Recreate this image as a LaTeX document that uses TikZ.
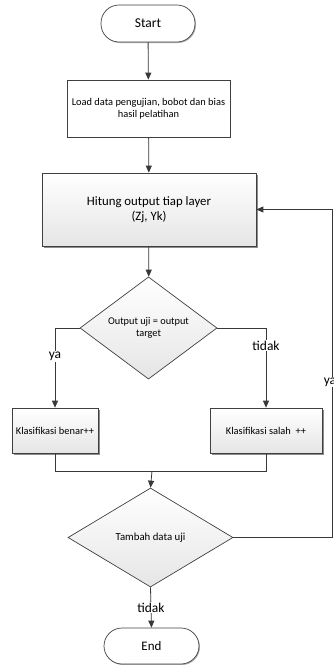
\documentclass[tikz,border=0pt]{standalone}
\usepackage{fontspec}
\setmainfont{Carlito}
\usetikzlibrary{arrows.meta,shapes.geometric,shadows}
\begin{document}
\begin{tikzpicture}[x=1pt,y=-1pt,
  line/.style={draw=black!78, line width=0.8pt},
  arr/.style={line, -{Triangle[length=7pt,width=6pt]}},
  base/.style={draw=black!75, line width=0.7pt, align=center, inner sep=2pt, text=black},
  term/.style={base, fill=white, rounded corners=18pt,
    drop shadow={shadow xshift=1pt, shadow yshift=-1pt, fill=black!30, opacity=1}},
  plainbox/.style={base, fill=white},
  shbox/.style={base, top color=white, bottom color=black!10,
    drop shadow={shadow xshift=1.5pt, shadow yshift=-1.5pt, fill=black!45, opacity=1}},
  dia/.style={base, diamond, top color=white, bottom color=black!10, inner sep=0pt},
  lbl/.style={fill=white, inner sep=1pt, font=\fontsize{13.5}{15}\selectfont}
]
\useasboundingbox (0,0) rectangle (333,665);

\node[term, minimum width=94pt, minimum height=37pt, font=\fontsize{13.5}{15}\selectfont] (start) at (148,23.5) {Start};
\node[plainbox, minimum width=163pt, minimum height=57pt, font=\fontsize{10.4}{12.5}\selectfont] (load) at (148.5,108.5) {Load data pengujian, bobot dan bias\\hasil pelatihan};
\node[shbox, minimum width=214pt, minimum height=73pt, font=\fontsize{12.8}{15}\selectfont] (hitung) at (149,209.5) {Hitung output tiap layer\\(Zj, Yk)};
\node[dia, minimum width=137pt, minimum height=98pt, font=\fontsize{10.3}{12.5}\selectfont] (d1) at (148.5,328) {Output uji = output\\target};
\node[shbox, minimum width=86pt, minimum height=45pt, font=\fontsize{10.4}{12}\selectfont] (benar) at (55,430.5) {Klasifikasi benar++};
\node[shbox, minimum width=112pt, minimum height=45pt, font=\fontsize{10.4}{12}\selectfont] (salah) at (266,430.5) {Klasifikasi salah~~++};
\coordinate (m) at (152,471);
\node[dia, minimum width=165pt, minimum height=99pt, font=\fontsize{10.8}{12}\selectfont] (d2) at (150.5,537.5) {Tambah data uji};
\node[term, minimum width=95pt, minimum height=36pt, font=\fontsize{13}{15}\selectfont] (end) at (151.5,646) {End};
\coordinate (loop) at (332,537.5);

\draw[arr] (start) -- (load);
\draw[arr] (load) -- (hitung);
\draw[arr] (hitung) -- (d1);
\draw[arr] (d1.west) -| node[lbl, pos=0.68] {ya} (benar.north);
\draw[arr] (d1.east) -| node[lbl, pos=0.61] {tidak} (salah.north);
\draw[line] (benar.south) |- (m);
\draw[line] (salah.south) |- (m);
\draw[arr] (m) -- (d2.north);
\draw[arr] (d2.east) -- (loop) |- node[lbl, pos=0.237, xshift=-2pt] {ya} (hitung.east);
\draw[arr] (d2.south) -- node[lbl, pos=0.5] {tidak} (end.north);
\end{tikzpicture}
\end{document}
